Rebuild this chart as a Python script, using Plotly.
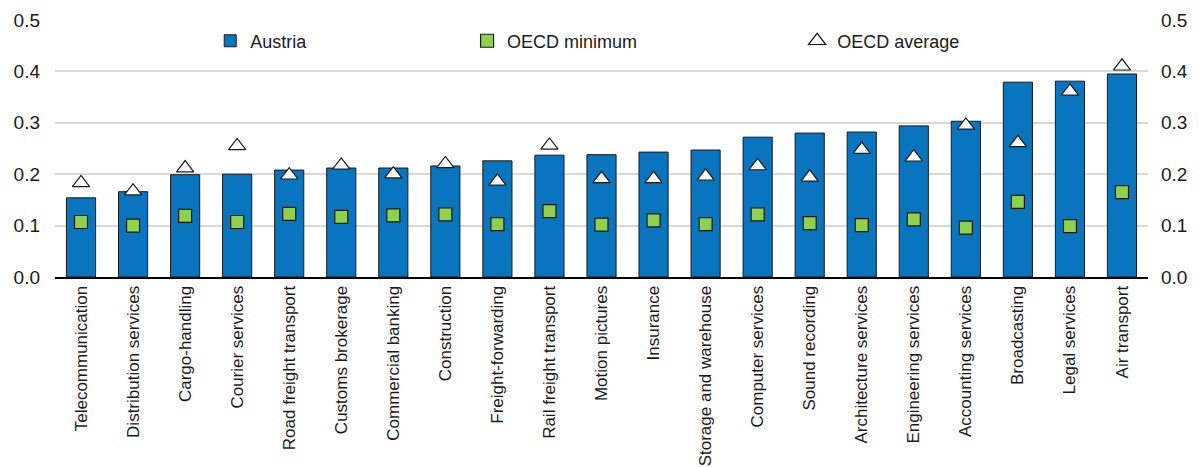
import plotly.graph_objects as go

sectors = ['Telecommunication', 'Distribution services', 'Cargo-handling', 'Courier services',
           'Road freight transport', 'Customs brokerage', 'Commercial banking', 'Construction',
           'Freight-forwarding', 'Rail freight transport', 'Motion pictures', 'Insurance',
           'Storage and warehouse', 'Computer services', 'Sound recording', 'Architecture services',
           'Engineering services', 'Accounting services', 'Broadcasting', 'Legal services', 'Air transport']
austria = [0.154, 0.166, 0.199, 0.200, 0.208, 0.212, 0.212, 0.216, 0.226, 0.237, 0.238,
           0.243, 0.247, 0.272, 0.280, 0.282, 0.294, 0.303, 0.379, 0.381, 0.395]
oecd_min = [0.107, 0.100, 0.119, 0.107, 0.123, 0.117, 0.120, 0.122, 0.103, 0.128, 0.102,
            0.110, 0.103, 0.122, 0.105, 0.101, 0.112, 0.096, 0.146, 0.099, 0.165]
oecd_avg = [0.183, 0.167, 0.212, 0.255, 0.198, 0.217, 0.200, 0.220, 0.186, 0.256, 0.191,
            0.191, 0.196, 0.216, 0.194, 0.248, 0.233, 0.295, 0.261, 0.361, 0.410]
yticks = [0.0, 0.1, 0.2, 0.3, 0.4, 0.5]

fig = go.Figure()
fig.add_trace(go.Bar(name='Austria', x=sectors, y=austria, width=0.56,
                     marker=dict(color='#0875be', line=dict(color='#1a1a1a', width=1)),
                     legend='legend'))
fig.add_trace(go.Scatter(name='OECD minimum', x=sectors, y=oecd_min, mode='markers',
                         marker=dict(symbol='square', size=13, color='#8fd14f',
                                     line=dict(color='#1a1a1a', width=1.2)),
                         legend='legend2'))
fig.add_trace(go.Scatter(name='OECD average', x=sectors, y=oecd_avg, mode='markers',
                         marker=dict(symbol='triangle-up', size=15, color='white',
                                     line=dict(color='#1a1a1a', width=1.2)),
                         legend='legend3'))
# invisible trace to carry the right-hand axis
fig.add_trace(go.Scatter(x=sectors, y=austria, yaxis='y2', mode='markers',
                         marker=dict(opacity=0), showlegend=False, hoverinfo='skip'))

leg = dict(orientation='h', yanchor='middle', xanchor='left', bgcolor='rgba(0,0,0,0)',
           font=dict(size=18, color='#1a1a1a'), itemwidth=30)
fig.update_layout(
    width=1199, height=467,
    margin=dict(l=47, r=59, t=12, b=198, autoexpand=False),
    plot_bgcolor='white', paper_bgcolor='white',
    font=dict(family='Liberation Sans, Arial, sans-serif', color='#1a1a1a'),
    legend=dict(leg, x=0.142, y=0.918),
    legend2=dict(leg, x=0.377, y=0.918),
    legend3=dict(leg, x=0.679, y=0.918),
    xaxis=dict(range=[-0.5, len(sectors) - 0.5], tickangle=-90, tickfont=dict(size=17),
               showline=True, linecolor='black', linewidth=2, ticks='', showgrid=False,
               automargin=False),
    yaxis=dict(range=[0, 0.5], tickvals=yticks, ticktext=[f'{v:.1f}' for v in yticks],
               tickfont=dict(size=19), gridcolor='#d9d9d9', gridwidth=2, ticklabelstandoff=14,
               zeroline=False, showline=False, ticks='', automargin=False),
    yaxis2=dict(range=[0, 0.5], tickvals=yticks, ticktext=[f'{v:.1f}' for v in yticks],
                tickfont=dict(size=19), overlaying='y', side='right', showgrid=False,
                ticklabelstandoff=12, zeroline=False, showline=False, ticks='', automargin=False),
)
fig.write_html('out.html')
